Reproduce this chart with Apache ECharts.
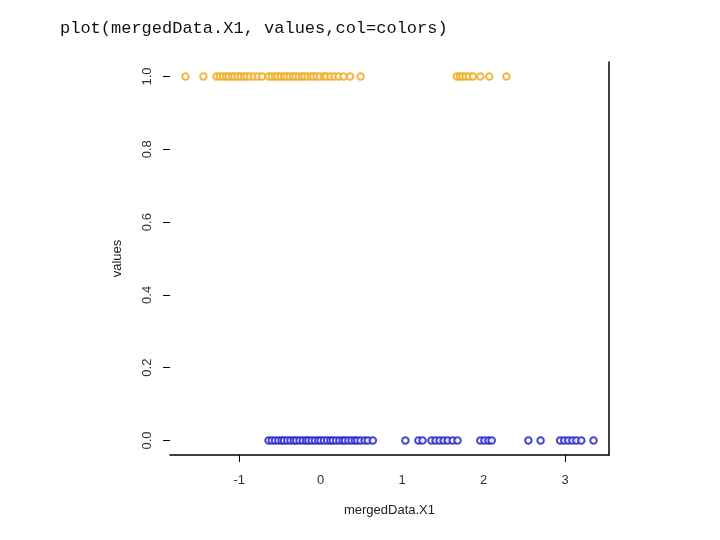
<!DOCTYPE html>
<html>
<head>
<meta charset="utf-8">
<script src="https://cdn.jsdelivr.net/npm/echarts@6/dist/echarts.min.js"></script>
<style>
  html, body { margin: 0; padding: 0; background: #fff; }
  #main { width: 720px; height: 540px; }
</style>
</head>
<body>
<div id="main"></div>
<script>
  // values == 1 (orange points)
  var orangeX = [
    -1.66, -1.44,
    -1.28, -1.24, -1.20, -1.16, -1.13, -1.09, -1.06, -1.02, -0.98, -0.94, -0.91, -0.87,
    -0.82, -0.77, -0.72,
    -0.64, -0.60, -0.56, -0.53, -0.49, -0.45, -0.42, -0.38, -0.34, -0.31, -0.27, -0.23,
    -0.20, -0.16, -0.12, -0.09, -0.05, -0.01,
    0.04, 0.07, 0.12, 0.17, 0.22, 0.28, 0.36, 0.49,
    1.67, 1.71, 1.74, 1.78, 1.82, 1.87, 1.96, 2.07, 2.28
  ];
  // values == 0 (blue points)
  var blueX = [
    -0.64, -0.60, -0.56, -0.52, -0.48, -0.45, -0.41, -0.37, -0.33, -0.30, -0.26, -0.22,
    -0.18, -0.15, -0.11, -0.07, -0.03, 0.00, 0.04, 0.08, 0.12, 0.15, 0.19, 0.23,
    0.27, 0.30, 0.34, 0.38, 0.42, 0.45, 0.49, 0.54, 0.58, 0.64,
    1.04, 1.20, 1.25, 1.36, 1.41, 1.46, 1.51, 1.56, 1.62, 1.68,
    1.96, 2.01, 2.06, 2.10,
    2.55, 2.70,
    2.94, 2.99, 3.04, 3.09, 3.14, 3.20,
    3.35
  ];
  var xTickLabels = [-1, 0, 1, 2, 3];
  var xTickMarks = [-1, 3];
  var yTickLabels = [0, 0.2, 0.4, 0.6, 0.8, 1.0];

  var chart = echarts.init(document.getElementById('main'));
  var option = {
    animation: false,
    backgroundColor: '#fff',
    title: {
      text: 'plot(mergedData.X1, values,col=colors)',
      left: 55,
      top: 15,
      textStyle: {
        fontFamily: 'Liberation Mono',
        fontSize: 17,
        fontWeight: 'normal',
        color: '#111'
      }
    },
    grid: { left: 170, right: 111, top: 62, bottom: 85 },
    xAxis: {
      type: 'value',
      min: -1.85,
      max: 3.54,
      name: 'mergedData.X1',
      nameLocation: 'middle',
      nameGap: 49,
      nameTextStyle: { fontFamily: 'Liberation Sans', fontSize: 13, color: '#222' },
      splitLine: { show: false },
      axisLine: { show: true, onZero: false, lineStyle: { color: '#000', width: 1.5 } },
      axisTick: { show: true, length: 7, customValues: xTickMarks, lineStyle: { color: '#000' } },
      axisLabel: {
        customValues: xTickLabels,
        margin: 19,
        fontFamily: 'Liberation Sans',
        fontSize: 13,
        color: '#333'
      }
    },
    yAxis: [{
      type: 'value',
      min: -0.04,
      max: 1.04,
      name: 'values',
      nameLocation: 'middle',
      nameGap: 46,
      nameRotate: 90,
      nameTextStyle: { fontFamily: 'Liberation Sans', fontSize: 13, color: '#222' },
      splitLine: { show: false },
      axisLine: { show: false, onZero: false },
      axisTick: { show: true, length: 7, customValues: yTickLabels, lineStyle: { color: '#000' } },
      axisLabel: {
        customValues: yTickLabels,
        rotate: 90,
        margin: 16,
        fontFamily: 'Liberation Sans',
        fontSize: 13,
        color: '#333',
        formatter: function (v) { return v.toFixed(1); }
      }
    }, {
      type: 'value',
      position: 'right',
      min: -0.04,
      max: 1.04,
      splitLine: { show: false },
      axisLine: { show: true, onZero: false, lineStyle: { color: '#000', width: 1.5 } },
      axisTick: { show: false },
      axisLabel: { show: false }
    }],
    series: [{
      type: 'scatter',
      symbol: 'emptyCircle',
      symbolSize: 6.5,
      itemStyle: { color: '#EFA511', borderWidth: 0.8 },
      data: orangeX.map(function (x) { return [x, 1]; })
    }, {
      type: 'scatter',
      symbol: 'emptyCircle',
      symbolSize: 6.5,
      itemStyle: { color: '#1818C8', borderWidth: 0.8 },
      data: blueX.map(function (x) { return [x, 0]; })
    }]
  };
  chart.setOption(option);
</script>
</body>
</html>
